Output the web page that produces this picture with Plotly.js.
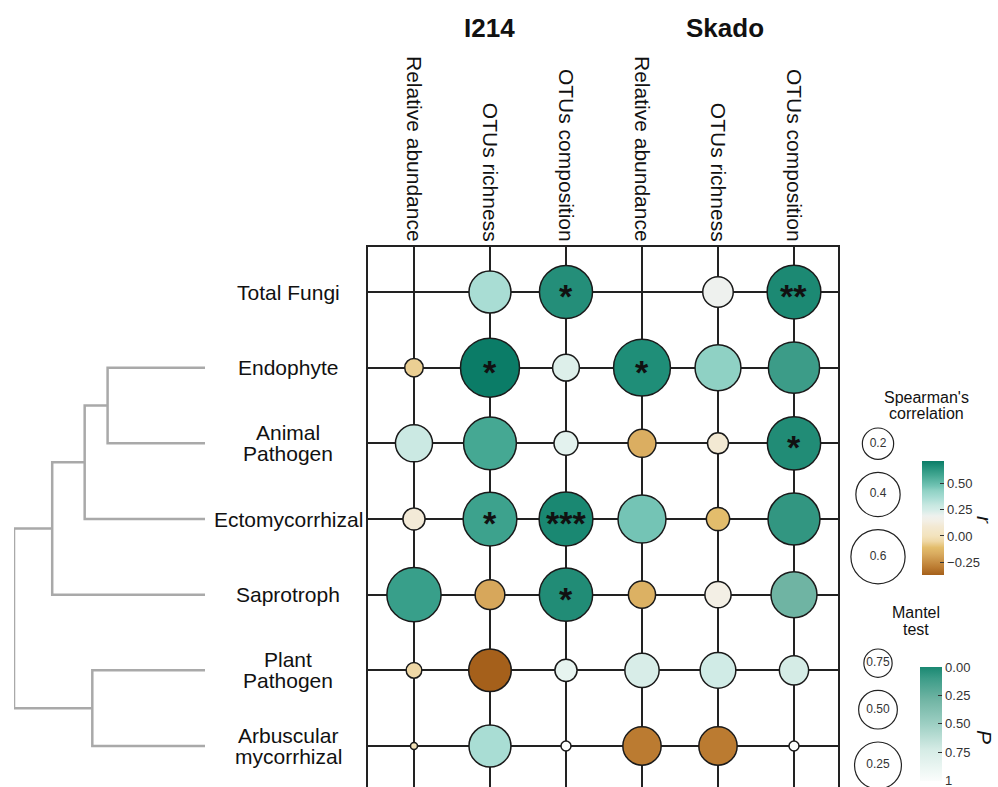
<!DOCTYPE html>
<html>
<head>
<meta charset="utf-8">
<script src="https://cdn.plot.ly/plotly-3.0.1.min.js"></script>
<style>html,body{margin:0;padding:0;background:#fff}</style>
</head>
<body>
<div id="chart" style="width:998px;height:787px"></div>
<script>
var rowLabels = ['Total Fungi', 'Endophyte', 'Animal\nPathogen', 'Ectomycorrhizal', 'Saprotroph', 'Plant\nPathogen', 'Arbuscular\nmycorrhizal'];
var colLabels = ['Relative abundance', 'OTUs richness', 'OTUs composition', 'Relative abundance', 'OTUs richness', 'OTUs composition'];
var groupLabels = ['I214', 'Skado'];

// Spearman's r (null = not tested)
var relAbundI214 = [null, -0.07, 0.28, 0.10, 0.60, -0.05, -0.01];
var richI214 = [0.36, 0.71, 0.57, 0.59, -0.18, -0.37, 0.36];
var relAbundSkado = [null, 0.66, -0.16, 0.47, -0.15, 0.24, -0.30];
var richSkado = [0.19, 0.43, 0.09, -0.11, 0.14, 0.26, -0.30];
// Mantel test P
var compPI214 = [0.03, 0.78, 0.83, 0.001, 0.02, 0.86, 1.0];
var compPSkado = [0.005, 0.10, 0.02, 0.07, 0.28, 0.73, 1.0];

// significance labels
var starsRelI214 = ['', '', '', '', '', '', ''];
var starsRichI214 = ['', '*', '', '*', '', '', ''];
var starsCompI214 = ['*', '', '', '***', '*', '', ''];
var starsRelSkado = ['', '*', '', '', '', '', ''];
var starsRichSkado = ['', '', '', '', '', '', ''];
var starsCompSkado = ['**', '', '*', '', '', '', ''];

// dendrogram merges: [child, child, height]; numbers refer to earlier merges
var dendroMerges = [
    ['Endophyte', 'Animal\nPathogen', 0.51],
    [0, 'Ectomycorrhizal', 0.63],
    [1, 'Saprotroph', 0.80],
    ['Plant\nPathogen', 'Arbuscular\nmycorrhizal', 0.59],
    [2, 3, 1.0]
];

var legendR = [0.2, 0.4, 0.6];
var legendP = [0.75, 0.50, 0.25];

var FONT = 'Liberation Sans, Arial, Helvetica, sans-serif';

function sizeR(r) { return 70 * Math.sqrt(Math.abs(r)); }
function sizeP(p) { return Math.sqrt(100 + 2800 * (1 - p)); }

var columns = [
    {vals: relAbundI214, stars: starsRelI214, kind: 'r'},
    {vals: richI214, stars: starsRichI214, kind: 'r'},
    {vals: compPI214, stars: starsCompI214, kind: 'p'},
    {vals: relAbundSkado, stars: starsRelSkado, kind: 'r'},
    {vals: richSkado, stars: starsRichSkado, kind: 'r'},
    {vals: compPSkado, stars: starsCompSkado, kind: 'p'}
];

var rX = [], rY = [], rV = [], pX = [], pY = [], pV = [];
var annotations = [];
columns.forEach(function(col, ci) {
    col.vals.forEach(function(v, ri) {
        if (v === null) return;
        if (col.kind === 'r') { rX.push(ci + 1); rY.push(ri); rV.push(v); }
        else { pX.push(ci + 1); pY.push(ri); pV.push(v); }
        if (col.stars[ri]) {
            annotations.push({x: ci + 1, y: ri, xref: 'x', yref: 'y', text: '<b>' + col.stars[ri] + '</b>',
                showarrow: false, yshift: -4, font: {size: 34, color: '#111', family: FONT}});
        }
    });
});

var rMin = Math.min.apply(null, rV), rMax = Math.max.apply(null, rV);
var rStops = [
    [-0.37, '#a5601b'], [-0.30, '#bb7b31'], [-0.17, '#d9ab5f'], [-0.11, '#e3bd6c'],
    [-0.05, '#efd8a6'], [0.00, '#f3e3bd'], [0.09, '#f3e9d3'], [0.14, '#f3efe5'],
    [0.19, '#eef1ee'], [0.25, '#d3ece7'], [0.29, '#c8e8e1'], [0.36, '#a9ddd4'],
    [0.43, '#8fd1c4'], [0.47, '#74c4b5'], [0.57, '#45a893'], [0.66, '#1f8e78'], [0.71, '#0b7c67']
];
var rScale = rStops.map(function(s, i) {
    var t = (s[0] - rMin) / (rMax - rMin);
    if (i === 0) t = 0;
    if (i === rStops.length - 1) t = 1;
    return [Math.max(0, Math.min(1, t)), s[1]];
});
var pScale = [[0, '#fbfdfc'], [0.27, '#d6ece6'], [0.5, '#9dcfc3'], [0.72, '#6fb4a3'], [0.9, '#3c9c88'], [1, '#1a8872']];

var traceR = {
    type: 'scatter', mode: 'markers', x: rX, y: rY, xaxis: 'x', yaxis: 'y', hoverinfo: 'none',
    marker: {
        size: rV.map(sizeR), color: rV, colorscale: rScale, cmin: rMin, cmax: rMax,
        line: {color: '#1a1a1a', width: 1.5}, opacity: 1,
        showscale: true,
        colorbar: {
            x: 922 / 998, xanchor: 'left', xref: 'paper', y: 1 - 518 / 787, yanchor: 'middle', yref: 'paper',
            len: 114, lenmode: 'pixels', thickness: 22, thicknessmode: 'pixels', xpad: 0, ypad: 0,
            outlinewidth: 0, ticks: 'inside', ticklen: 4, tickcolor: '#333',
            tickvals: [-0.25, 0, 0.25, 0.5], tickformat: '.2f',
            tickfont: {size: 13, color: '#333', family: FONT}
        }
    }
};

var traceP = {
    type: 'scatter', mode: 'markers', x: pX, y: pY, xaxis: 'x', yaxis: 'y', hoverinfo: 'none',
    marker: {
        size: pV.map(sizeP), color: pV.map(function(p) { return -p; }), colorscale: pScale, cmin: -1.003, cmax: 0,
        line: {color: '#1a1a1a', width: 1.5}, opacity: 1,
        showscale: true,
        colorbar: {
            x: 920 / 998, xanchor: 'left', xref: 'paper', y: 1 - 724 / 787, yanchor: 'middle', yref: 'paper',
            len: 114, lenmode: 'pixels', thickness: 22, thicknessmode: 'pixels', xpad: 0, ypad: 0,
            outlinewidth: 0, ticks: 'inside', ticklen: 4, tickcolor: '#333', ticklabeloverflow: 'allow',
            tickvals: [0, -0.25, -0.5, -0.75, -1], ticktext: ['0.00', '0.25', '0.50', '0.75', '1'],
            tickfont: {size: 13, color: '#333', family: FONT}
        }
    }
};

// dendrogram
var nodes = [], dX = [], dY = [];
function dpos(ref) {
    if (typeof ref === 'number') return nodes[ref];
    return {y: rowLabels.indexOf(ref), h: 0};
}
dendroMerges.forEach(function(m) {
    var a = dpos(m[0]), b = dpos(m[1]), h = m[2];
    dX.push(a.h, h, h, b.h, null);
    dY.push(a.y, a.y, b.y, b.y, null);
    nodes.push({y: (a.y + b.y) / 2, h: h});
});
var traceDendro = {
    type: 'scatter', mode: 'lines', x: dX, y: dY, xaxis: 'x2', yaxis: 'y2', hoverinfo: 'none',
    line: {color: '#a9a9a9', width: 2.5}, connectgaps: false
};

// size legends
function stack(vals, sizeFn, top, gap) {
    var y = top, out = [];
    vals.forEach(function(v) {
        var d = sizeFn(v);
        y += d / 2; out.push(y); y += d / 2 + gap;
    });
    return out;
}
var legRY = stack(legendR, sizeR, 428, 13);
var legPY = stack(legendP, sizeP, 649, 13);
var legendStyle = function(vals, ys, sizeFn, fmt) {
    return {
        type: 'scatter', mode: 'markers+text', x: vals.map(function() { return 0.5; }), y: ys,
        xaxis: 'x3', yaxis: 'y3', hoverinfo: 'none', cliponaxis: false,
        text: vals.map(fmt), textposition: 'middle center',
        textfont: {size: 12, color: '#333', family: FONT},
        marker: {size: vals.map(sizeFn), color: '#fff', opacity: 1, line: {color: '#222', width: 1.2}}
    };
};
var traceLegR = legendStyle(legendR, legRY, sizeR, function(v) { return v.toFixed(1); });
var traceLegP = legendStyle(legendP, legPY, sizeP, function(v) { return v.toFixed(2); });

// row labels
rowLabels.forEach(function(lab, ri) {
    var lines = lab.split('\n');
    lines.forEach(function(line, li) {
        annotations.push({x: 288 / 998, xref: 'paper', y: ri, yref: 'y', text: line, showarrow: false,
            xanchor: 'center', yshift: ((lines.length - 1) / 2 - li) * 21,
            font: {size: 21, color: '#111', family: FONT}});
    });
});

// group titles
[2, 5.09].forEach(function(gx, gi) {
    annotations.push({x: gx, xref: 'x', y: 1 - 28 / 787, yref: 'paper', text: '<b>' + groupLabels[gi] + '</b>',
        showarrow: false, xanchor: 'center', yanchor: 'middle', font: {size: 26, color: '#111', family: FONT}});
});

// legend titles
[['Spearman\'s', 926, 397], ['correlation', 926, 413], ['Mantel', 916, 612], ['test', 916, 629]].forEach(function(t) {
    annotations.push({x: t[1] / 998, xref: 'paper', y: 1 - t[2] / 787, yref: 'paper', text: t[0], showarrow: false,
        xanchor: 'center', yanchor: 'middle', font: {size: 16, color: '#111', family: FONT}});
});
[['<i>r</i>', 985, 520], ['<i>P</i>', 985, 737]].forEach(function(t) {
    annotations.push({x: t[1] / 998, xref: 'paper', y: 1 - t[2] / 787, yref: 'paper', text: t[0], showarrow: false,
        textangle: 90, xanchor: 'center', yanchor: 'middle', font: {size: 21, color: '#111', family: FONT}});
});

var gridStyle = {showgrid: true, gridcolor: '#222', gridwidth: 2, showline: true, mirror: true,
    linecolor: '#222', linewidth: 2, zeroline: false, ticks: '', fixedrange: true};

var layout = {
    width: 998, height: 787, margin: {l: 0, r: 0, t: 0, b: 0},
    paper_bgcolor: '#fff', plot_bgcolor: 'rgba(0,0,0,0)', showlegend: false,
    font: {family: FONT, color: '#111'},
    xaxis: Object.assign({}, gridStyle, {
        domain: [368 / 998, 838 / 998], range: [0.395, 6.579], anchor: 'y', side: 'top',
        tickmode: 'array', tickvals: [1, 2, 3, 4, 5, 6], ticktext: colLabels, tickangle: 90,
        ticklabelstandoff: -4, tickfont: {size: 21, color: '#111', family: FONT}
    }),
    yaxis: Object.assign({}, gridStyle, {
        domain: [0, 1 - 247 / 787], range: [6.542, -0.595], anchor: 'x',
        tickmode: 'array', tickvals: [0, 1, 2, 3, 4, 5, 6], showticklabels: false
    }),
    xaxis2: {domain: [14 / 998, 205 / 998], range: [1, 0], anchor: 'y2', visible: false, fixedrange: true},
    yaxis2: {domain: [0, 1 - 247 / 787], range: [6.542, -0.595], anchor: 'x2', visible: false, fixedrange: true},
    xaxis3: {domain: [850 / 998, 906 / 998], range: [0, 1], anchor: 'y3', visible: false, fixedrange: true},
    yaxis3: {domain: [0, 1], range: [787, 0], anchor: 'x3', visible: false, fixedrange: true},
    annotations: annotations
};

Plotly.newPlot('chart', [traceDendro, traceR, traceP, traceLegR, traceLegP], layout, {staticPlot: true});
</script>
</body>
</html>
